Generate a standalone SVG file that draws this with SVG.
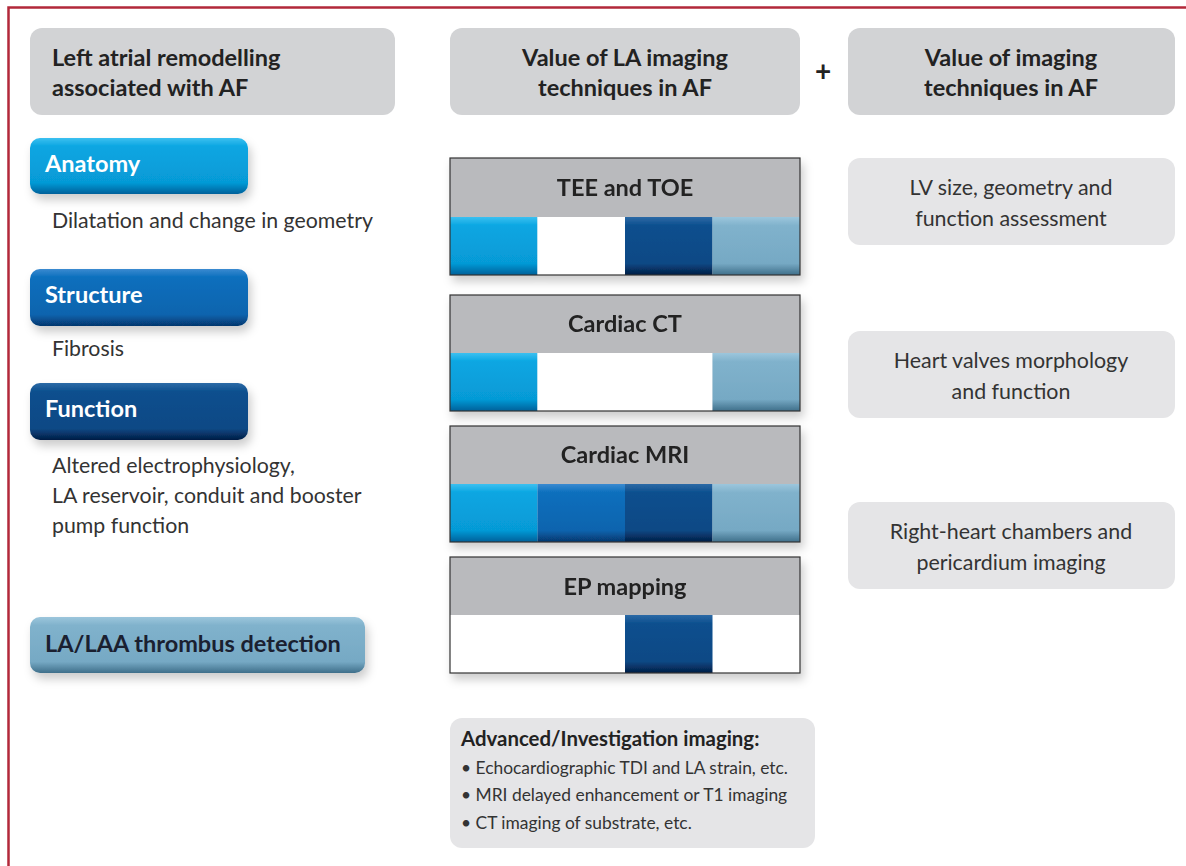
<svg xmlns="http://www.w3.org/2000/svg" width="1186" height="866" viewBox="0 0 1186 866">
<defs>
<linearGradient id="gCyan" x1="0" y1="0" x2="0" y2="1"><stop offset="0" stop-color="#3cc0f0"/><stop offset="0.15" stop-color="#0aa6e2"/><stop offset="0.8" stop-color="#069ad6"/><stop offset="1" stop-color="#04609a"/></linearGradient>
<linearGradient id="gBlue" x1="0" y1="0" x2="0" y2="1"><stop offset="0" stop-color="#3a8ad0"/><stop offset="0.15" stop-color="#0b6fbd"/><stop offset="0.8" stop-color="#0864ae"/><stop offset="1" stop-color="#06376e"/></linearGradient>
<linearGradient id="gNavy" x1="0" y1="0" x2="0" y2="1"><stop offset="0" stop-color="#2e6aa6"/><stop offset="0.15" stop-color="#0b4f8e"/><stop offset="0.8" stop-color="#0a4985"/><stop offset="1" stop-color="#041c44"/></linearGradient>
<linearGradient id="gSteel" x1="0" y1="0" x2="0" y2="1"><stop offset="0" stop-color="#9cc6dc"/><stop offset="0.15" stop-color="#80b2cc"/><stop offset="0.8" stop-color="#76a9c4"/><stop offset="1" stop-color="#3f6f8a"/></linearGradient>
<filter id="sh" x="-10%" y="-20%" width="125%" height="160%"><feDropShadow dx="3" dy="6" stdDeviation="5" flood-color="#000" flood-opacity="0.2"/></filter>
</defs>
<style>
.t{font-family:Lato,"Open Sans","DejaVu Sans",sans-serif;}
.hd{font-size:23.5px;font-weight:bold;fill:#222;}
.hdc{font-size:23.5px;font-weight:bold;fill:#222;text-anchor:middle;}
.btn{font-size:23.5px;font-weight:bold;fill:#fff;}
.desc{font-size:21.3px;fill:#333;}
.rt{font-size:21.4px;fill:#333;text-anchor:middle;}
.hbox{fill:#d2d3d5;}
.rbox{fill:#e5e5e7;}
.band{fill:#b9babd;}
.frame{fill:none;stroke:#333;stroke-width:1.2;}
</style>
<rect width="1186" height="866" fill="#fff"/>
<path d="M8.5 866 V7.5 H1186" fill="none" stroke="#b2283a" stroke-width="2.5"/>

<g id="header-left"><rect class="hbox" x="30" y="28" width="365" height="87" rx="12"/><text class="t hd" x="52" y="66">Left atrial remodelling</text><text class="t hd" x="52" y="96">associated with AF</text></g>
<g id="header-mid"><rect class="hbox" x="450" y="28" width="350" height="87" rx="12"/><text class="t hdc" x="625" y="66">Value of LA imaging</text><text class="t hdc" x="625" y="96">techniques in AF</text></g>
<g id="plus"><text class="t" x="823" y="81" font-size="28" font-weight="bold" fill="#222" text-anchor="middle">+</text></g>
<g id="header-right"><rect class="hbox" x="848" y="28" width="327" height="87" rx="12"/><text class="t hdc" x="1011" y="66">Value of imaging</text><text class="t hdc" x="1011" y="96">techniques in AF</text></g>

<g id="anatomy"><rect x="30" y="138" width="218" height="56" rx="10" fill="url(#gCyan)" filter="url(#sh)"/><text class="t btn" x="45" y="172">Anatomy</text><text class="t desc" x="52" y="228">Dilatation and change in geometry</text></g>
<g id="structure"><rect x="30" y="269" width="218" height="57" rx="10" fill="url(#gBlue)" filter="url(#sh)"/><text class="t btn" x="45" y="303">Structure</text><text class="t desc" x="52" y="356">Fibrosis</text></g>
<g id="function"><rect x="30" y="383" width="218" height="57" rx="10" fill="url(#gNavy)" filter="url(#sh)"/><text class="t btn" x="45" y="417">Function</text><text class="t desc" x="52" y="473">Altered electrophysiology,</text><text class="t desc" x="52" y="503">LA reservoir, conduit and booster</text><text class="t desc" x="52" y="533">pump function</text></g>
<g id="thrombus"><rect x="30" y="617" width="335" height="56" rx="10" fill="url(#gSteel)" filter="url(#sh)"/><text class="t" x="45" y="652" font-size="23.5" font-weight="bold" fill="#1a2030">LA/LAA thrombus detection</text></g>

<g id="tee" filter="url(#sh)"><rect class="band" x="450" y="158" width="350" height="59"/><rect x="450" y="217" width="87.5" height="58" fill="url(#gCyan)"/><rect x="537.5" y="217" width="87.5" height="58" fill="#fff"/><rect x="625" y="217" width="87.5" height="58" fill="url(#gNavy)"/><rect x="712.5" y="217" width="87.5" height="58" fill="url(#gSteel)"/><rect class="frame" x="450" y="158" width="350" height="117"/><text class="t hdc" x="625" y="196">TEE and TOE</text></g>
<g id="ct" filter="url(#sh)"><rect class="band" x="450" y="295" width="350" height="58"/><rect x="450" y="353" width="87.5" height="58" fill="url(#gCyan)"/><rect x="537.5" y="353" width="175" height="58" fill="#fff"/><rect x="712.5" y="353" width="87.5" height="58" fill="url(#gSteel)"/><rect class="frame" x="450" y="295" width="350" height="116"/><text class="t hdc" x="625" y="332">Cardiac CT</text></g>
<g id="mri" filter="url(#sh)"><rect class="band" x="450" y="426" width="350" height="58"/><rect x="450" y="484" width="87.5" height="58" fill="url(#gCyan)"/><rect x="537.5" y="484" width="87.5" height="58" fill="url(#gBlue)"/><rect x="625" y="484" width="87.5" height="58" fill="url(#gNavy)"/><rect x="712.5" y="484" width="87.5" height="58" fill="url(#gSteel)"/><rect class="frame" x="450" y="426" width="350" height="116"/><text class="t hdc" x="625" y="463">Cardiac MRI</text></g>
<g id="ep" filter="url(#sh)"><rect class="band" x="450" y="557" width="350" height="58"/><rect x="450" y="615" width="350" height="58" fill="#fff"/><rect x="625" y="615" width="87.5" height="58" fill="url(#gNavy)"/><rect class="frame" x="450" y="557" width="350" height="116"/><text class="t hdc" x="625" y="595">EP mapping</text></g>

<g id="lv"><rect class="rbox" x="848" y="158" width="327" height="87" rx="12"/><text class="t rt" x="1011" y="195">LV size, geometry and</text><text class="t rt" x="1011" y="226">function assessment</text></g>
<g id="valves"><rect class="rbox" x="848" y="331" width="327" height="87" rx="12"/><text class="t rt" x="1011" y="368">Heart valves morphology</text><text class="t rt" x="1011" y="399">and function</text></g>
<g id="rightheart"><rect class="rbox" x="848" y="502" width="327" height="87" rx="12"/><text class="t rt" x="1011" y="539">Right-heart chambers and</text><text class="t rt" x="1011" y="570">pericardium imaging</text></g>

<g id="advanced"><rect class="rbox" x="450" y="718" width="365" height="130" rx="12"/><text class="t" x="461" y="746" font-size="20.4" font-weight="bold" fill="#222">Advanced/Investigation imaging:</text><text class="t" x="461" y="774" font-size="17.4" fill="#333">• Echocardiographic TDI and LA strain, etc.</text><text class="t" x="461" y="801" font-size="17.4" fill="#333">• MRI delayed enhancement or T1 imaging</text><text class="t" x="461" y="829" font-size="17.4" fill="#333">• CT imaging of substrate, etc.</text></g>
<g id="connectors"></g>
</svg>
